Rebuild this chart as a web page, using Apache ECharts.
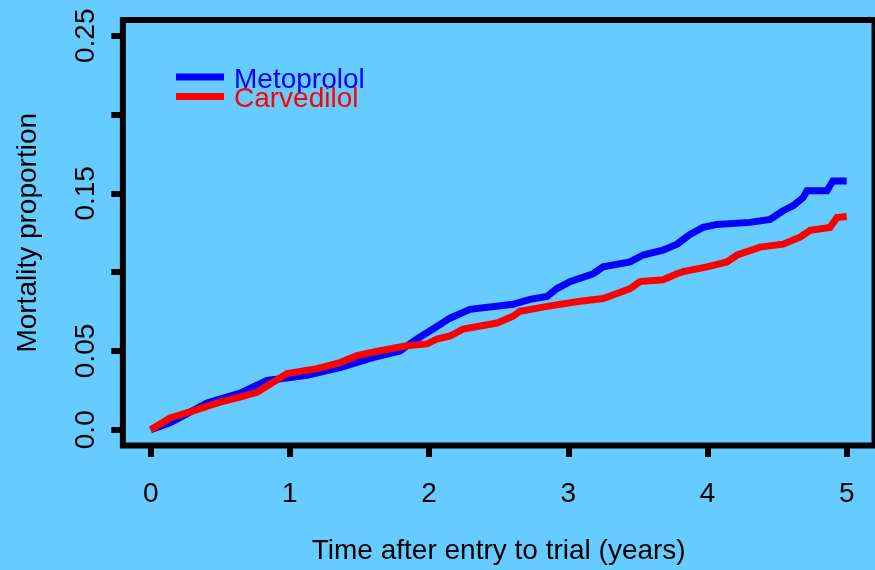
<!DOCTYPE html>
<html>
<head>
<meta charset="utf-8">
<script src="https://cdn.jsdelivr.net/npm/echarts@6/dist/echarts.min.js"></script>
<style>
html,body{margin:0;padding:0;background:#66ccff;}
#chart{width:875px;height:570px;}
</style>
</head>
<body>
<div id="chart"></div>
<script>
// Metoprolol (blue) cumulative mortality
const metoTime = [0, 0.139, 0.404, 0.642, 0.836, 1.123, 1.36, 1.595, 1.79, 1.913, 2.028, 2.15, 2.294, 2.603, 2.725, 2.847, 2.919, 3.012, 3.178, 3.25, 3.444, 3.537, 3.68, 3.781, 3.874, 3.968, 4.068, 4.305, 4.449, 4.543, 4.615, 4.686, 4.715, 4.858, 4.901, 5.0];
const metoValue = [0, 0.0044, 0.0169, 0.0232, 0.0313, 0.0345, 0.0395, 0.0457, 0.050, 0.0576, 0.0639, 0.0708, 0.0764, 0.0796, 0.0827, 0.0846, 0.0896, 0.094, 0.099, 0.1034, 0.1065, 0.1109, 0.114, 0.1178, 0.124, 0.1284, 0.1303, 0.1316, 0.1335, 0.139, 0.1422, 0.1472, 0.1516, 0.1516, 0.1579, 0.1579];
// Carvedilol (red)
const carvTime = [0, 0.139, 0.282, 0.498, 0.642, 0.764, 0.879, 0.979, 1.195, 1.36, 1.482, 1.647, 1.841, 1.985, 2.057, 2.15, 2.244, 2.488, 2.603, 2.653, 2.847, 3.084, 3.25, 3.35, 3.444, 3.515, 3.68, 3.781, 3.825, 3.997, 4.14, 4.213, 4.378, 4.543, 4.665, 4.737, 4.88, 4.93, 5.0];
const carvValue = [0, 0.0075, 0.0113, 0.0175, 0.0207, 0.0238, 0.0301, 0.0357, 0.0388, 0.0426, 0.047, 0.0501, 0.0533, 0.0545, 0.0576, 0.0595, 0.0639, 0.0677, 0.072, 0.0752, 0.0783, 0.0815, 0.0833, 0.0865, 0.0896, 0.094, 0.0952, 0.099, 0.1003, 0.1034, 0.1065, 0.1109, 0.1159, 0.1178, 0.1222, 0.1266, 0.1284, 0.1347, 0.1353];

const xTickValues = [0, 1, 2, 3, 4, 5];
const xTickLabels = ["0", "1", "2", "3", "4", "5"];
const yTickValues = [0, 0.05, 0.10, 0.15, 0.20, 0.25];
const yLabelValues = [0, 0.05, 0.15, 0.25];
const yTickLabels = ["0.0", "0.05", "0.15", "0.25"];

const seriesNames = ["Metoprolol", "Carvedilol"];
const seriesColors = ["#0000ff", "#ff0000"];

const FONT = "'Liberation Sans', Arial, sans-serif";
const FS = 28;

function pairs(t, v) { return t.map((x, i) => [x, v[i]]); }

const chart = echarts.init(document.getElementById('chart'), null, {renderer: 'canvas'});
chart.setOption({
  animation: false,
  backgroundColor: '#66ccff',
  textStyle: {fontFamily: FONT},
  grid: {
    left: 122.86, right: 0.46, top: 20.04, bottom: 119.04,
    show: true, borderColor: '#000', borderWidth: 6, backgroundColor: 'transparent',
    containLabel: false
  },
  legend: {
    orient: 'vertical',
    left: 176, top: 66,
    padding: 0,
    itemGap: -8.5,
    itemWidth: 48, itemHeight: 13,
    icon: 'path://M0,0H48V7H0Z M0,13',
    data: seriesNames.map((n, i) => ({name: n, textStyle: {color: seriesColors[i]}})),
    textStyle: {
      fontFamily: FONT, fontSize: FS,
      padding: [0, 0, 0, 5]
    }
  },
  xAxis: {
    type: 'value',
    min: -0.2, max: 5.2,
    name: 'Time after entry to trial (years)',
    nameLocation: 'middle',
    nameGap: 91.5,
    nameTextStyle: {fontFamily: FONT, fontSize: FS, color: '#000'},
    axisLine: {show: false, onZero: false},
    axisTick: {show: true, inside: false, length: 11.5, lineStyle: {color: '#000', width: 6}, customValues: xTickValues},
    axisLabel: {
      show: true, margin: 35, fontFamily: FONT, fontSize: FS, color: '#000',
      customValues: xTickValues,
      formatter: function (v) { const i = xTickValues.indexOf(v); return i >= 0 ? xTickLabels[i] : ''; }
    },
    splitLine: {show: false}
  },
  yAxis: {
    type: 'value',
    min: -0.01, max: 0.26,
    name: 'Mortality proportion',
    nameLocation: 'middle',
    nameRotate: 90,
    nameGap: 81,
    nameTextStyle: {fontFamily: FONT, fontSize: FS, color: '#000'},
    axisLine: {show: false, onZero: false},
    axisTick: {show: true, inside: false, length: 11.5, lineStyle: {color: '#000', width: 6}, customValues: yTickValues},
    axisLabel: {
      show: true, rotate: 90, margin: 22.5, fontFamily: FONT, fontSize: FS, color: '#000',
      customValues: yLabelValues,
      formatter: function (v) {
        for (let i = 0; i < yLabelValues.length; i++) { if (Math.abs(yLabelValues[i] - v) < 1e-9) return yTickLabels[i]; }
        return '';
      }
    },
    splitLine: {show: false}
  },
  series: [
    {
      name: seriesNames[0], type: 'line', data: pairs(metoTime, metoValue),
      showSymbol: false, symbol: 'none', color: seriesColors[0],
      lineStyle: {color: seriesColors[0], width: 7, cap: 'butt', join: 'miter'},
      z: 2
    },
    {
      name: seriesNames[1], type: 'line', data: pairs(carvTime, carvValue),
      showSymbol: false, symbol: 'none', color: seriesColors[1],
      lineStyle: {color: seriesColors[1], width: 7, cap: 'butt', join: 'miter'},
      z: 3
    }
  ]
});
</script>
</body>
</html>
